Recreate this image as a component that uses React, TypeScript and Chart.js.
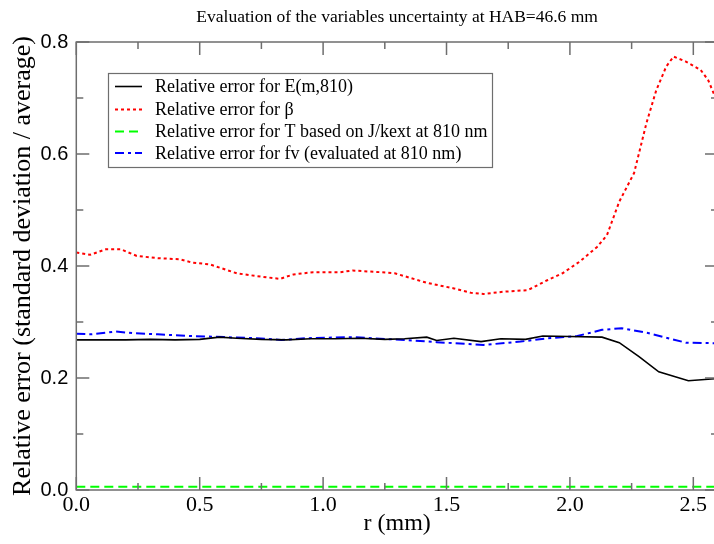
import React, { useEffect, useRef } from "react";
import { Chart, registerables } from "chart.js";

Chart.register(...registerables);

const SERIF = "'Liberation Serif', 'Times New Roman', serif";
const SANS = "'Liberation Sans', Arial, sans-serif";

const TITLE = "Evaluation of the variables uncertainty at HAB=46.6 mm";
const X_TITLE = "r (mm)";
const Y_TITLE = "Relative error (standard deviation / average)";

const X_MIN = 0;
const X_MAX = 2.6;
const Y_MIN = 0;
const Y_MAX = 0.8;
const X_STEP = 0.5;
const Y_STEP = 0.2;
const X_MINOR = [0.25, 0.75, 1.25, 1.75, 2.25];
const Y_MINOR = [0.1, 0.3, 0.5, 0.7];

const LABELS = [
  "Relative error for E(m,810)",
  "Relative error for \u03b2",
  "Relative error for T based on J/kext at 810 nm",
  "Relative error for fv (evaluated at 810 nm)",
];

// E(m,810)
const rE = [0, 0.1, 0.2, 0.3, 0.4, 0.5, 0.58, 0.65, 0.75, 0.85, 0.95, 1.05, 1.15, 1.25, 1.33, 1.42, 1.46, 1.53, 1.64, 1.72, 1.82, 1.89, 2.0, 2.13, 2.2, 2.28, 2.36, 2.48, 2.6];
const errE = [0.268, 0.268, 0.268, 0.269, 0.268, 0.269, 0.273, 0.271, 0.269, 0.268, 0.27, 0.27, 0.271, 0.269, 0.27, 0.273, 0.267, 0.271, 0.265, 0.27, 0.269, 0.275, 0.274, 0.273, 0.263, 0.238, 0.211, 0.195, 0.199];

// beta
const rBeta = [0, 0.056, 0.12, 0.18, 0.245, 0.33, 0.42, 0.47, 0.54, 0.65, 0.73, 0.825, 0.88, 0.96, 1.07, 1.12, 1.23, 1.29, 1.42, 1.53, 1.6, 1.65, 1.73, 1.83, 1.91, 1.97, 2.04, 2.11, 2.15, 2.2, 2.26, 2.31, 2.35, 2.39, 2.42, 2.47, 2.53, 2.56, 2.6];
const errBeta = [0.424, 0.42, 0.43, 0.43, 0.418, 0.414, 0.412, 0.406, 0.403, 0.387, 0.382, 0.377, 0.385, 0.389, 0.389, 0.392, 0.389, 0.387, 0.37, 0.36, 0.352, 0.35, 0.354, 0.357, 0.375, 0.387, 0.408, 0.434, 0.455, 0.515, 0.566, 0.655, 0.714, 0.756, 0.774, 0.765, 0.75, 0.732, 0.69];

// T based on J/kext
const rT = [0, 0.5, 1.0, 1.5, 2.0, 2.6];
const errT = [0.006, 0.006, 0.006, 0.006, 0.006, 0.006];

// fv
const rFv = [0, 0.06, 0.16, 0.23, 0.33, 0.46, 0.6, 0.73, 0.83, 0.93, 1.12, 1.23, 1.33, 1.46, 1.65, 1.8, 1.91, 2.03, 2.13, 2.21, 2.32, 2.47, 2.6];
const errFv = [0.279, 0.278, 0.283, 0.28, 0.278, 0.275, 0.273, 0.271, 0.268, 0.271, 0.273, 0.27, 0.268, 0.264, 0.259, 0.265, 0.271, 0.275, 0.286, 0.289, 0.28, 0.263, 0.262];

const pts = (xs: number[], ys: number[]) => xs.map((x, i) => ({ x, y: ys[i] }));

const framePlugin = {
  id: "frameTicks",
  afterDatasetsDraw(chart: any) {
    const { ctx, chartArea, scales } = chart;
    const { left, right, top, bottom } = chartArea;
    const xs = scales.x;
    const ys = scales.y;
    ctx.save();
    ctx.strokeStyle = "#6e6e6e";
    ctx.lineWidth = 1.5;
    ctx.beginPath();
    ctx.moveTo(left, top);
    ctx.lineTo(right, top);
    ctx.lineTo(right, bottom);
    ctx.lineTo(left, bottom);
    ctx.closePath();
    ctx.stroke();
    const major = 13;
    const minor = 7;
    const xTick = (v: number, len: number) => {
      const p = xs.getPixelForValue(v);
      ctx.beginPath();
      ctx.moveTo(p, bottom);
      ctx.lineTo(p, bottom - len);
      ctx.moveTo(p, top);
      ctx.lineTo(p, top + len);
      ctx.stroke();
    };
    const yTick = (v: number, len: number) => {
      const p = ys.getPixelForValue(v);
      ctx.beginPath();
      ctx.moveTo(left, p);
      ctx.lineTo(left + len, p);
      ctx.moveTo(right, p);
      ctx.lineTo(right - len, p);
      ctx.stroke();
    };
    xs.ticks.forEach((t: any) => xTick(t.value, major));
    X_MINOR.forEach((v) => xTick(v, minor));
    ys.ticks.forEach((t: any) => yTick(t.value, major));
    Y_MINOR.forEach((v) => yTick(v, minor));
    ctx.restore();
  },
};

const legendPlugin = {
  id: "boxLegend",
  afterDraw(chart: any) {
    const { ctx } = chart;
    const bx = 108;
    const by = 73;
    const bw = 384;
    const bh = 94;
    ctx.save();
    ctx.fillStyle = "#ffffff";
    ctx.fillRect(bx, by, bw, bh);
    ctx.strokeStyle = "#6e6e6e";
    ctx.lineWidth = 1.2;
    ctx.strokeRect(bx + 0.5, by + 0.5, bw, bh);
    const rows = [86.5, 109.5, 131.5, 153];
    chart.data.datasets.forEach((ds: any, i: number) => {
      const y = rows[i];
      ctx.strokeStyle = ds.borderColor;
      ctx.lineWidth = ds.borderWidth;
      ctx.setLineDash(ds.borderDash || []);
      ctx.beginPath();
      ctx.moveTo(115, y);
      ctx.lineTo(142, y);
      ctx.stroke();
      ctx.setLineDash([]);
      ctx.fillStyle = "#000";
      ctx.font = `18px ${SERIF}`;
      ctx.textBaseline = "middle";
      ctx.textAlign = "left";
      ctx.fillText(ds.label, 155, y + 1);
    });
    ctx.restore();
  },
};

export default function App() {
  const ref = useRef<HTMLCanvasElement | null>(null);

  useEffect(() => {
    if (!ref.current) return;
    const common = { pointRadius: 0, fill: false, tension: 0 };
    const chart = new Chart(ref.current, {
      type: "line",
      data: {
        datasets: [
          { ...common, label: LABELS[0], data: pts(rE, errE), borderColor: "#000000", borderWidth: 1.6, borderDash: [] },
          { ...common, label: LABELS[1], data: pts(rBeta, errBeta), borderColor: "#ff0000", borderWidth: 2, borderDash: [3, 3] },
          { ...common, label: LABELS[2], data: pts(rT, errT), borderColor: "#00ff00", borderWidth: 2, borderDash: [9, 5] },
          { ...common, label: LABELS[3], data: pts(rFv, errFv), borderColor: "#0000ff", borderWidth: 2, borderDash: [9, 4, 3, 4] },
        ] as any,
      },
      options: {
        responsive: false,
        animation: false,
        layout: { padding: { left: 0, right: 2, top: 0, bottom: 0 } },
        plugins: {
          legend: { display: false },
          tooltip: { enabled: false },
          title: {
            display: true,
            text: TITLE,
            fullSize: false,
            color: "#000",
            font: { family: SERIF, size: 17.5, weight: "normal" },
            padding: { top: 7, bottom: 14 },
          } as any,
        },
        scales: {
          x: {
            type: "linear",
            min: X_MIN,
            max: X_MAX,
            grid: { display: false, drawTicks: false },
            border: { display: false },
            ticks: {
              stepSize: X_STEP,
              includeBounds: false,
              color: "#000",
              font: { family: SERIF, size: 22 },
              padding: 2,
              maxRotation: 0,
              callback: (v: any) => Number(v).toFixed(1),
            },
            title: {
              display: true,
              text: X_TITLE,
              color: "#000",
              font: { family: SERIF, size: 24 },
              padding: { top: 0, bottom: 6 },
            },
            afterFit: (s: any) => {
              s.height = 54;
            },
          },
          y: {
            type: "linear",
            min: Y_MIN,
            max: Y_MAX,
            grid: { display: false, drawTicks: false },
            border: { display: false },
            ticks: {
              stepSize: Y_STEP,
              color: "#000",
              font: { family: SANS, size: 20 },
              padding: 8,
              callback: (v: any) => Number(v).toFixed(1),
            },
            title: {
              display: true,
              text: Y_TITLE,
              color: "#000",
              font: { family: SERIF, size: 26 },
              padding: { top: 8, bottom: 0 },
            },
            afterFit: (s: any) => {
              s.width = 76.3;
            },
          },
        } as any,
      },
      plugins: [framePlugin, legendPlugin],
    });
    return () => chart.destroy();
  }, []);

  return (
    <div
      style={{
        position: "fixed",
        left: 0,
        top: 0,
        width: 714,
        height: 544,
        overflow: "hidden",
        background: "#ffffff",
      }}
    >
      <canvas ref={ref} width={720} height={544} style={{ display: "block" }} />
    </div>
  );
}
